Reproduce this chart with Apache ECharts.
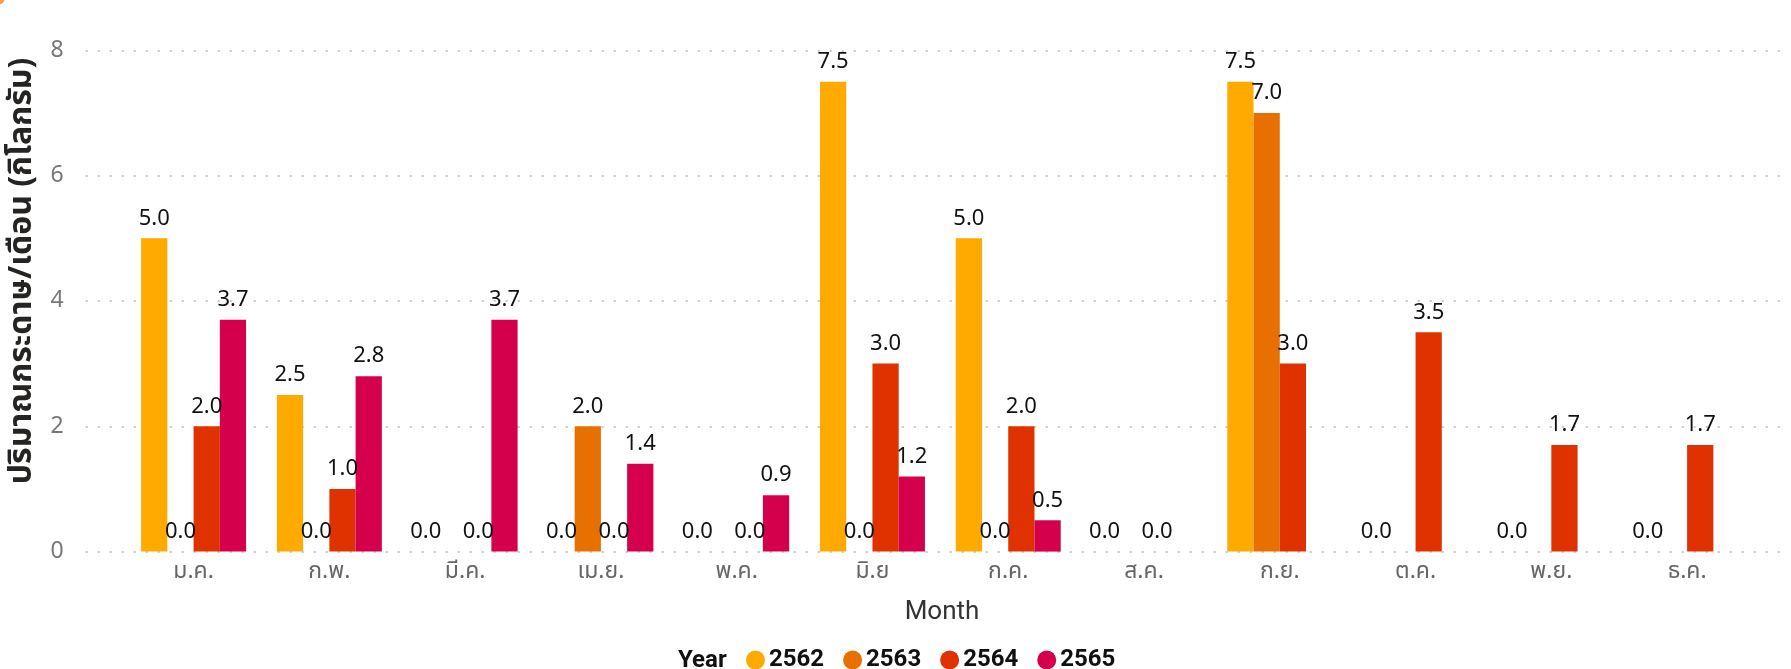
<!DOCTYPE html>
<html>
<head>
<meta charset="utf-8">
<script src="https://cdn.jsdelivr.net/npm/echarts@6/dist/echarts.min.js"></script>
<style>
html,body{margin:0;padding:0;background:#fff;}
#c{width:1791px;height:669px;}
</style>
</head>
<body>
<div id="c"></div>
<script>
const months = ['ม.ค.','ก.พ.','มี.ค.','เม.ย.','พ.ค.','มิ.ย','ก.ค.','ส.ค.','ก.ย.','ต.ค.','พ.ย.','ธ.ค.'];
const years = ['2562','2563','2564','2565'];
const v2562 = [5.0, 2.5, 0.0, 0.0, 0.0, 7.5, 5.0, 0.0, 7.5, 0.0, 0.0, 0.0];
const v2563 = [0.0, 0.0, null, 2.0, null, 0.0, 0.0, null, 7.0, null, null, null];
const v2564 = [2.0, 1.0, 0.0, 0.0, 0.0, 3.0, 2.0, 0.0, 3.0, 3.5, 1.7, 1.7];
const v2565 = [3.7, 2.8, 3.7, 1.4, 0.9, 1.2, 0.5, null, null, null, null, null];
const yTicks = [0, 2, 4, 6, 8];
const colors = ['#FFAA00', '#E87000', '#E03200', '#D4004C'];
const seriesValues = [v2562, v2563, v2564, v2565];

const FONT = '"Segoe UI", "Noto Sans", "Noto Sans Thai", "Liberation Sans", sans-serif';
const chart = echarts.init(document.getElementById('c'));
const TOP = 50.3, BOTTOM = 117.4;

const series = years.map((y, i) => ({
  name: y,
  type: 'bar',
  xAxisIndex: 1,
  yAxisIndex: 1,
  data: seriesValues[i],
  barGap: '0%',
  barCategoryGap: '22.7%',
  itemStyle: { color: colors[i] },
  label: {
    show: true,
    position: 'top',
    distance: 9,
    color: '#111',
    fontSize: 22,
    fontFamily: FONT,
    formatter: p => (p.value == null ? '' : Number(p.value).toFixed(1))
  }
}));

chart.setOption({
  animation: false,
  backgroundColor: '#fff',
  grid: [
    { left: 85.7, right: 5, top: TOP, bottom: BOTTOM },
    { left: 125.7, right: 36, top: TOP, bottom: BOTTOM }
  ],
  xAxis: [
    { type: 'value', gridIndex: 0, show: false, min: 0, max: 1 },
    { type: 'category', gridIndex: 1, data: months,
      axisLine: { show: false }, axisTick: { show: false },
      axisLabel: { color: '#666', fontSize: 23, fontFamily: FONT, margin: 8 } }
  ],
  yAxis: [
    { type: 'value', gridIndex: 0, min: yTicks[0], max: yTicks[yTicks.length-1], interval: 2,
      axisLine: { show: false }, axisTick: { show: false },
      axisLabel: { color: '#777', fontSize: 23, fontFamily: FONT, margin: 22 },
      splitLine: { show: true, lineStyle: { color: '#C8C8C8', width: 2, type: [2, 10] } } },
    { type: 'value', gridIndex: 1, min: yTicks[0], max: yTicks[yTicks.length-1], interval: 2, show: false,
      splitLine: { show: false } }
  ],
  legend: {
    data: years,
    left: 741, top: 643,
    icon: 'circle', itemWidth: 19, itemHeight: 19, itemGap: 19,
    textStyle: { color: '#111', fontSize: 24, fontWeight: 'bold', fontFamily: 'Roboto, sans-serif', padding: [0,0,0,-1] },
    selectedMode: false
  },
  graphic: [
    { type: 'text', x: 678, y: 661,
      style: { text: 'Year', fontSize: 24, fontWeight: 'bold', fontFamily: 'Roboto, sans-serif', fill: '#111', verticalAlign: 'middle' } },
    { type: 'text', x: 942, y: 612,
      style: { text: 'Month', fontSize: 26, fontFamily: 'Roboto, sans-serif', fill: '#333', align: 'center', verticalAlign: 'middle' } },
    { type: 'text', x: 22, y: 271, rotation: Math.PI / 2,
      style: { text: 'ปริมาณกระดาษ/เดือน (กิโลกรัม)', fontSize: 32, fontWeight: 'bold', fontFamily: FONT, fill: '#252423', align: 'center', verticalAlign: 'middle' } },
    { type: 'circle', shape: { cx: -3, cy: -3, r: 8 }, style: { fill: '#F2A040' } }
  ],
  series: series
});
</script>
</body>
</html>
